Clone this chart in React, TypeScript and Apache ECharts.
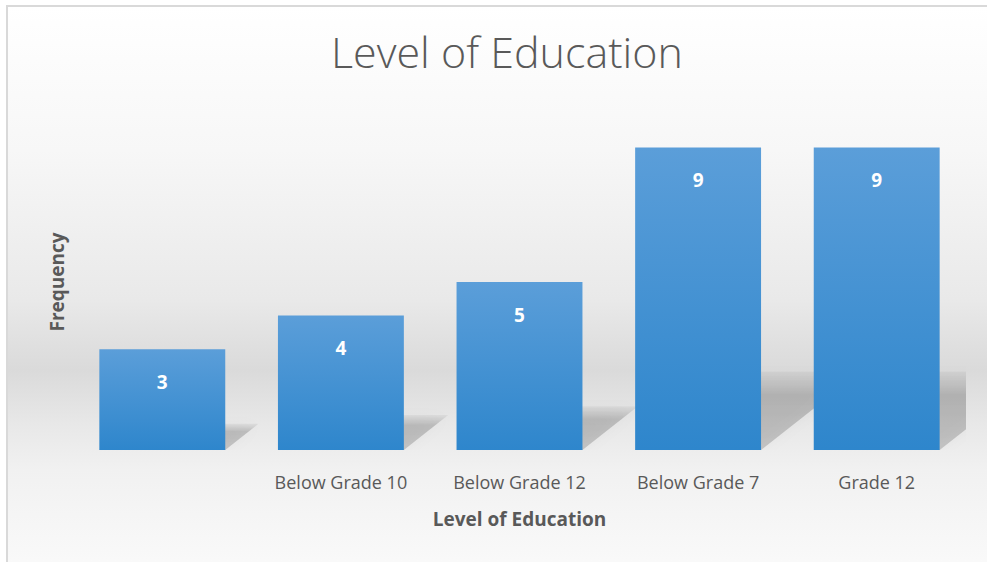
import React, { useEffect, useRef } from "react";
import * as echarts from "echarts";

const categories = ["", "Below Grade 10", "Below Grade 12", "Below Grade 7", "Grade 12"];
const frequencies = [3, 4, 5, 9, 9];
const chartTitle = "Level of Education";
const xAxisName = "Level of Education";
const yAxisName = "Frequency";

export default function App() {
  const ref = useRef<HTMLDivElement>(null);
  useEffect(() => {
    if (!ref.current) return;
    const chart = echarts.init(ref.current, null, { renderer: "svg" });
    const font = "Open Sans, Noto Sans, sans-serif";
    const bgTop = 6;
    const bgH = 570;
    const off = (y: number) => (y - bgTop) / bgH;
    chart.setOption({
      animation: false,
      textStyle: { fontFamily: font },
      graphic: [
        {
          type: "rect",
          z: -10,
          silent: true,
          shape: { x: 7, y: bgTop, width: 990, height: bgH },
          style: {
            fill: new echarts.graphic.LinearGradient(0, 0, 0, 1, [
              { offset: 0, color: "#ffffff" },
              { offset: off(150), color: "#f7f7f7" },
              { offset: off(300), color: "#e9e9e9" },
              { offset: off(370), color: "#dadada" },
              { offset: off(425), color: "#e8e8e8" },
              { offset: off(470), color: "#f1f1f1" },
              { offset: off(560), color: "#f9f9f9" },
              { offset: 1, color: "#fafafa" },
            ]),
            stroke: "#d9d9d9",
            lineWidth: 2,
          },
        },
      ],
      title: {
        text: chartTitle,
        left: 326,
        top: 25,
        textStyle: { fontFamily: font, fontSize: 43, fontWeight: 300, color: "#595959" },
      },
      grid: { left: 73, right: 21, top: 114, bottom: 112 },
      xAxis: {
        type: "category",
        data: categories,
        axisLine: { show: false },
        axisTick: { show: false },
        axisLabel: { color: "#595959", fontSize: 18, margin: 23, fontFamily: font },
        name: xAxisName,
        nameLocation: "middle",
        nameGap: 59,
        nameTextStyle: { color: "#595959", fontSize: 19, fontWeight: "bold", fontFamily: font },
      },
      yAxis: {
        type: "value",
        min: 0,
        max: 10,
        axisLine: { show: false },
        axisTick: { show: false },
        axisLabel: { show: false },
        splitLine: { show: false },
        name: yAxisName,
        nameLocation: "middle",
        nameGap: 7,
        nameTextStyle: { color: "#595959", fontSize: 19, fontWeight: "bold", fontFamily: font },
      },
      series: [
        {
          type: "custom",
          z: 1,
          clip: true,
          data: frequencies.map((v, i) => [i, v]),
          encode: { x: 0, y: 1 },
          renderItem: (params: any, api: any) => {
            const idx = api.value(0);
            const val = api.value(1);
            const top = api.coord([idx, val]);
            const base = api.coord([idx, 0]);
            const bw = api.size([1, 0])[0] * 0.705;
            const x0 = base[0] - bw / 2;
            const x1 = base[0] + bw / 2;
            const h = base[1] - top[1];
            const dx = h * 0.33;
            const dy = h * 0.26;
            const y = base[1];
            return {
              type: "polygon",
              shape: {
                points: [
                  [x0, y],
                  [x1, y],
                  [x1 + dx, y - dy],
                  [x0 + dx, y - dy],
                ],
              },
              style: {
                fill: new echarts.graphic.LinearGradient(0, 0, 0, 1, [
                  { offset: 0, color: "rgba(0,0,0,0.04)" },
                  { offset: 0.3, color: "rgba(0,0,0,0.19)" },
                  { offset: 1, color: "rgba(0,0,0,0.17)" },
                ]),
                shadowBlur: 14,
                shadowColor: "rgba(0,0,0,0.15)",
              },
            };
          },
        },
        {
          type: "bar",
          z: 2,
          data: frequencies,
          barWidth: "70.5%",
          itemStyle: {
            color: new echarts.graphic.LinearGradient(0, 0, 0, 1, [
              { offset: 0, color: "#5b9ed9" },
              { offset: 1, color: "#2e86cc" },
            ]),
          },
          label: {
            show: true,
            position: "insideTop",
            distance: 23,
            color: "#ffffff",
            fontSize: 19,
            fontWeight: "bold",
            fontFamily: font,
          },
        },
      ],
    });
    return () => chart.dispose();
  }, []);
  return (
    <div
      ref={ref}
      style={{ position: "absolute", left: 0, top: 0, width: 987, height: 562, background: "#ffffff" }}
    />
  );
}
